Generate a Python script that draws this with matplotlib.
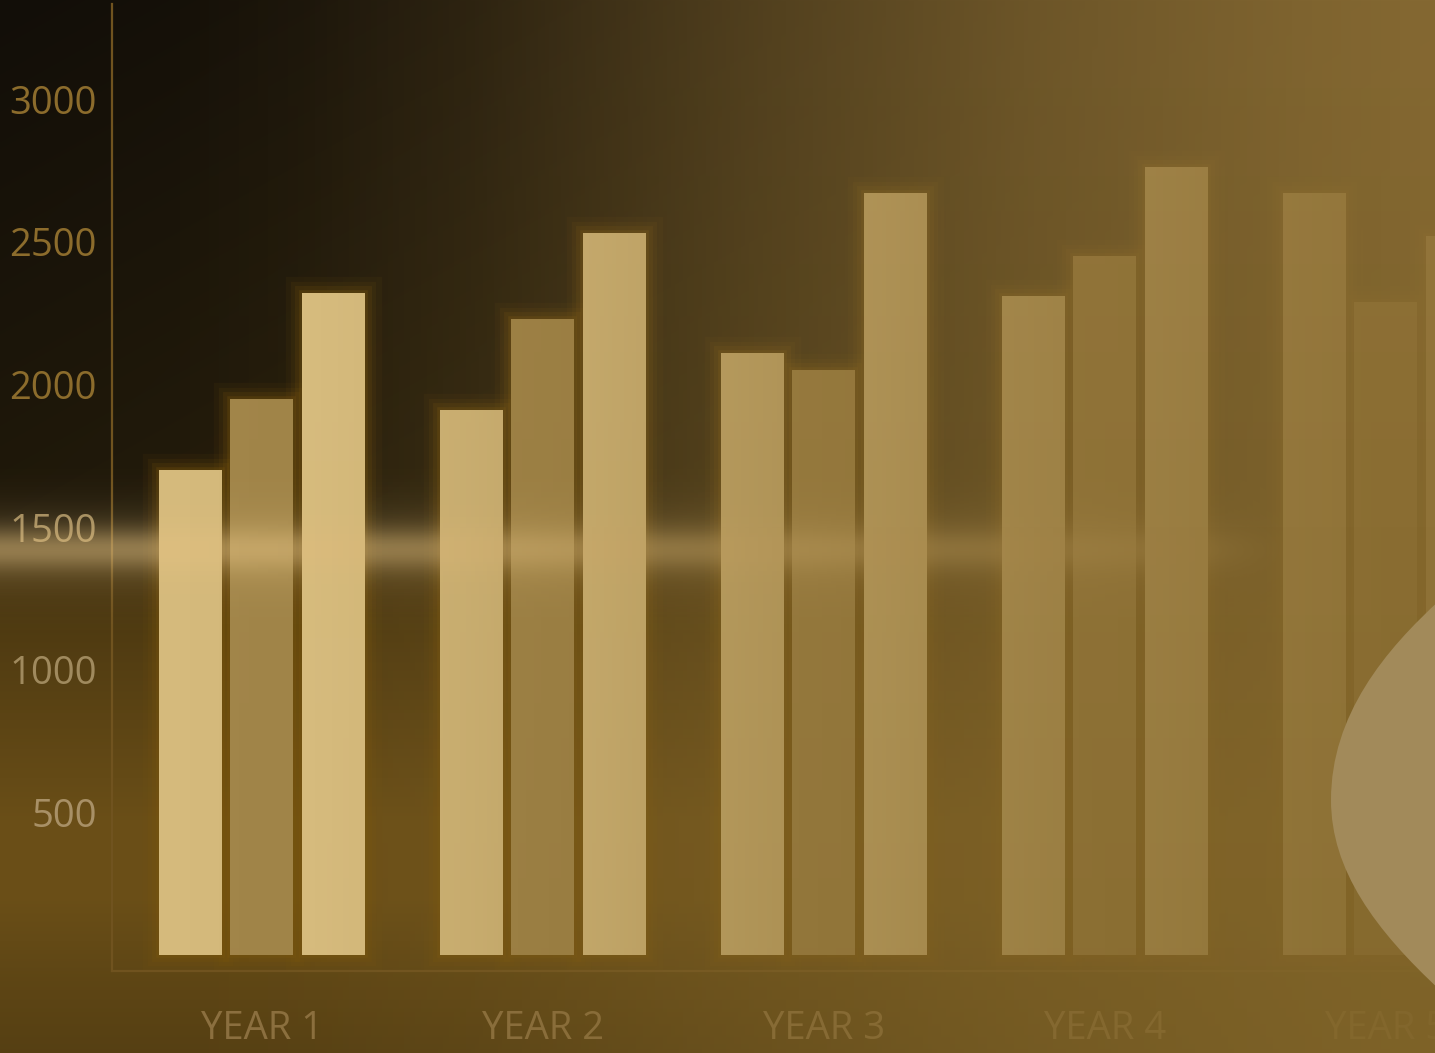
import numpy as np
import matplotlib
matplotlib.use("Agg")
import matplotlib.pyplot as plt
import matplotlib.patheffects as pe
from matplotlib.path import Path
from matplotlib.patches import PathPatch

# ---- data -------------------------------------------------------------
years = ["YEAR 1", "YEAR 2", "YEAR 3", "YEAR 4", "YEAR 5"]
series_a = [1700, 1910, 2110, 2310, 2670]
series_b = [1950, 2230, 2050, 2450, 2290]
series_c = [2320, 2530, 2670, 2760, 2520]
y_ticks = [500, 1000, 1500, 2000, 2500, 3000]

# ---- style ------------------------------------------------------------
plt.rcParams["font.family"] = ["Open Sans", "DejaVu Sans"]
bar_colors = ["#d6bb7d", "#a2864a", "#dcc183"]
glow_color = "#7e580c"
tick_colors = ["#a89066", "#a08a5e", "#a08a5e", "#8c6c2c", "#8c6c2c", "#8c6c2c"]
year_color = "#8c7040"
spine_color = "#70531f"

W, H = 1435, 1053
fig = plt.figure(figsize=(W / 100, H / 100), dpi=100)

yy, xx = np.mgrid[0:H, 0:W].astype(float)


def smooth(t):
    t = np.clip(t, 0, 1)
    return t * t * (3 - 2 * t)


# ---- background: dark upper half, warm brown lower half ---------------
top = np.stack([18 + 22 * xx / W + 14 * yy / 520,
                14 + 17 * xx / W + 11 * yy / 520,
                8 + 5 * xx / W + 2 * yy / 520], -1)
prof_y = [560, 620, 720, 820, 900, 980, 1053]
prof_r = [62, 78, 92, 106, 106, 94, 86]
r = np.interp(yy, prof_y, prof_r)
bot = np.stack([r, r * 0.74, r * 0.22], -1)
w = smooth((yy - 515) / 75)[..., None]
base = (top * (1 - w) + bot * w) / 255.0

bg = fig.add_axes([0, 0, 1, 1], zorder=0)
bg.imshow(np.clip(base, 0, 1), extent=(0, W, H, 0), aspect="auto",
          interpolation="bilinear")
bg.set_xlim(0, W)
bg.set_ylim(H, 0)
bg.axis("off")

# ---- main chart -------------------------------------------------------
x_left, x_right = -0.5338, 4.55
px_per_group = 281
ax_right_px = 112 + (x_right - x_left) * px_per_group
ax = fig.add_axes([112 / W, (H - 971) / H, (ax_right_px - 112) / W, (971 - 4) / H],
                  zorder=2)
ax.patch.set_alpha(0)

x = np.arange(len(years))
step, width = 0.2544, 0.2242
all_series = [series_a, series_b, series_c]
offsets = [-step, 0, step]

glow = [pe.Stroke(linewidth=24, foreground=glow_color, alpha=0.08),
        pe.Stroke(linewidth=16, foreground=glow_color, alpha=0.11),
        pe.Stroke(linewidth=10, foreground=glow_color, alpha=0.16),
        pe.Stroke(linewidth=4, foreground=glow_color, alpha=0.25),
        pe.Normal()]

for vals, off in zip(all_series, offsets):
    ax.bar(x + off, vals, width, color=glow_color, linewidth=0,
           zorder=1, path_effects=glow)
for vals, off, col in zip(all_series, offsets, bar_colors):
    ax.bar(x + off, vals, width, color=col, linewidth=0, zorder=2)

ax.set_xlim(x_left, x_right)
ax.set_ylim(-56, 3333)
ax.set_yticks(y_ticks)
ax.set_yticklabels([str(v) for v in y_ticks], fontsize=27.5)
ax.set_xticks(x)
ax.set_xticklabels(years, fontsize=27.5, color=year_color)
for lab, c in zip(ax.get_yticklabels(), tick_colors):
    lab.set_color(c)
ax.tick_params(axis="y", length=0, pad=11)
ax.tick_params(axis="x", length=0, pad=28)
for side in ("top", "right"):
    ax.spines[side].set_visible(False)
for side in ("left", "bottom"):
    ax.spines[side].set_color(spine_color)
    ax.spines[side].set_linewidth(1.6)

# ---- light streak and golden haze on top ------------------------------
ov = fig.add_axes([0, 0, 1, 1], zorder=3)
ov.set_xlim(0, W)
ov.set_ylim(H, 0)
ov.axis("off")

band_alpha = (0.38 * np.exp(-0.5 * ((yy - 549) / 15) ** 2)
              + 0.18 * np.exp(-0.5 * ((yy - 549) / 32) ** 2))
band_alpha *= 1 - smooth((xx - 1150) / 170)
band = np.zeros((H, W, 4))
band[..., 0] = 228 / 255
band[..., 1] = 194 / 255
band[..., 2] = 130 / 255
band[..., 3] = band_alpha
ov.imshow(band, extent=(0, W, H, 0), aspect="auto", interpolation="bilinear",
          zorder=1)

haze_a = np.interp(xx, [0, 150, 300, 470, 750, 1030, 1310, 1435],
                   [0, 0, 0.06, 0.18, 0.46, 0.70, 0.87, 0.92])
ty = yy / H
haze = np.zeros((H, W, 4))
haze[..., 0] = (142 - 12 * ty) / 255
haze[..., 1] = (112 - 10 * ty) / 255
haze[..., 2] = (54 - 12 * ty) / 255
haze[..., 3] = haze_a
ov.imshow(haze, extent=(0, W, H, 0), aspect="auto", interpolation="bilinear",
          zorder=2)

# soft decorative shape at the lower right edge
verts = [(1441, 599), (1385, 650), (1331, 715), (1331, 800),
         (1331, 870), (1375, 930), (1441, 991),
         (1450, 991), (1450, 599), (1441, 599)]
codes = [Path.MOVETO, Path.CURVE4, Path.CURVE4, Path.CURVE4,
         Path.CURVE4, Path.CURVE4, Path.CURVE4,
         Path.LINETO, Path.LINETO, Path.CLOSEPOLY]
ov.add_patch(PathPatch(Path(verts, codes), facecolor="#a28a5a",
                       edgecolor="none", zorder=3))

fig.savefig("out.png", dpi=100)
